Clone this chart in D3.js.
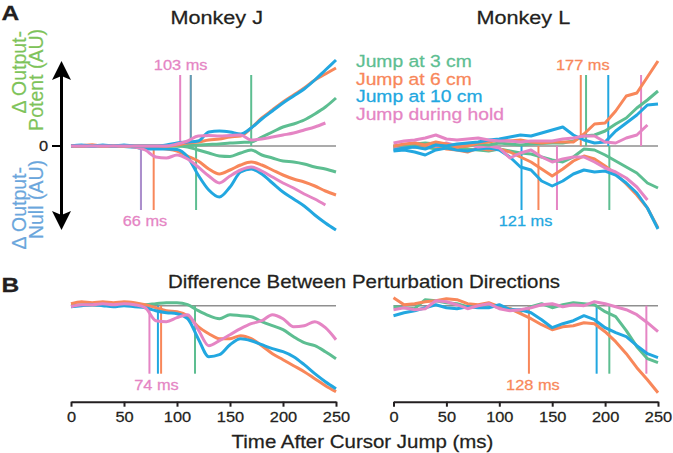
<!DOCTYPE html>
<html><head><meta charset="utf-8">
<script src="https://cdn.jsdelivr.net/npm/d3@7"></script>
<style>body{margin:0;background:#fff;} svg{display:block;} text{font-family:"Liberation Sans",Arial,Helvetica,sans-serif;}</style>
</head><body><svg id="c" width="673" height="453"></svg>
<script>
// ---------- DATA ----------
const times = [0,10,20,30,40,50,60,70,80,90,100,110,120,130,140,150,160,170,180,190,200,210,220,230,240,250];
const seriesNames = ["Jump at 3 cm","Jump at 6 cm","Jump at 10 cm","Jump during hold"];
const xTicks = [0,50,100,150,200,250];

// Monkey J, output-potent (up) and output-null (down), AU
const jPot3    = [0,0,0,0,0,0,0,0,0,0,0,0.05,0.1,0.15,0.2,0.3,0.35,0.4,0.9,1.4,1.9,2.2,2.6,3.2,3.9,4.8];
const jPot6    = [0,0,0.1,0,0,0,0,0,0,0,0.1,0.3,0.4,0.6,0.7,0.9,1.0,1.8,2.8,3.6,4.4,5.1,5.8,6.6,7.2,7.8];
const jPot10   = [0,0.1,0,0.1,0,0.1,0,0,0,0.1,0.3,0.4,0.5,1.4,1.5,1.4,1.2,1.8,2.7,3.5,4.3,5.0,5.7,6.6,7.6,8.6];
const jPotHold = [0,0,0,0,0,0,0,0,0,0,0.2,0.5,1.0,1.05,1.0,1.05,1.1,0.6,0.7,0.9,1.1,1.3,1.6,1.9,2.3];
const jNull3    = [0,0,0,0,0,0,0,0,0,0,0,-0.1,-0.4,-0.7,-1.0,-1.05,-0.7,-0.4,-0.9,-1.2,-1.5,-1.6,-1.8,-2.1,-2.3,-2.6];
const jNull6    = [0,0.05,0.1,0,0,0,-0.1,-0.2,-0.2,-0.3,-0.5,-1.0,-1.5,-2.3,-2.8,-2.4,-1.9,-1.6,-1.9,-2.4,-2.9,-3.3,-3.6,-4.0,-4.5,-4.9];
const jNull10   = [0,-0.05,0,0.05,0,-0.05,-0.1,-0.3,-0.3,-0.3,-0.35,-1.1,-2.9,-4.4,-5.1,-4.1,-2.6,-2.3,-2.8,-3.7,-4.6,-5.3,-6.0,-6.9,-7.7,-8.4];
const jNullHold = [0,0,-0.05,0,0,0,-0.1,-0.4,-1.1,-1.2,-0.9,-1.3,-2.1,-3.0,-3.7,-3.0,-2.4,-2.1,-2.5,-3.1,-3.7,-4.2,-4.8,-5.3,-5.9];

// Monkey L
const lPot3    = [0,0.1,0.2,0.3,0.2,0,0.1,0,0.2,0.1,0.3,0.2,0.1,0.2,0.25,0.3,0.3,0.5,1.0,1.1,1.5,2.2,2.8,3.8,4.6,5.5];
const lPot6    = [0,0.2,0.3,0.1,0.4,0.2,-0.1,0,0.3,0.4,0.6,0.5,0.6,0.4,0.3,0.4,0.4,0.4,1.2,2.2,2.3,3.5,5.0,5.3,6.9,8.5];
const lPot10   = [-0.4,-0.2,-0.1,-0.3,0.1,0,0.2,0.3,0.4,0.6,0.7,0.9,1.1,1.0,1.3,1.6,1.9,1.1,0.6,0.3,0.4,1.5,2.3,3.1,4.1,4.2];
const lPotHold = [0.3,0.5,0.6,0.8,1.1,0.7,0.6,0.7,0.8,0.6,0.5,0.5,0.4,0.5,0.5,0.5,0.7,0.8,1.0,1.0,0.4,0.3,0.8,1.1,2.1];
const lNull3    = [-0.1,-0.2,0,-0.1,-0.3,-0.2,-0.1,-0.3,-0.4,-0.5,-0.3,-0.5,-0.7,-0.8,-1.1,-1.4,-1.6,-1.1,-0.3,-0.4,-0.9,-1.5,-2.1,-2.7,-3.7,-4.2];
const lNull6    = [-0.2,0,-0.1,-0.2,0,-0.3,-0.4,-0.6,-0.2,-0.4,-0.3,-0.6,-1.1,-1.6,-2.3,-3.0,-2.3,-1.5,-1.0,-1.3,-2.0,-2.8,-3.8,-4.9,-6.2,-8.2];
const lNull10   = [-0.5,-0.4,-0.6,-0.9,-0.4,-0.2,-0.4,-0.5,-0.3,-0.2,-0.4,-1.1,-2.1,-2.4,-3.5,-4.0,-3.5,-2.8,-2.4,-2.6,-2.5,-2.9,-3.7,-4.7,-6.2,-8.3];
const lNullHold = [-0.1,0.1,0.3,0.2,0,0.3,0,0.2,-0.1,0,-0.2,-1.2,-0.7,-0.4,-1.1,-1.6,-1.3,-1.1,-1.1,-1.6,-2.2,-2.6,-3.2,-4.1,-5.4];

// Difference between perturbation directions
const jDiff3    = [0,0.1,0.1,0.1,0.1,0.2,0.1,0.1,0.2,0.3,0.3,0.1,-0.5,-1.0,-1.3,-0.9,-1.0,-1.1,-1.6,-2.0,-2.4,-3.1,-3.7,-4.0,-4.6,-5.3];
const jDiff6    = [0.2,0.4,0.3,0.4,0.3,0.4,0.3,0.1,-0.2,-0.5,-0.6,-1.0,-2.1,-2.8,-3.3,-3.3,-3.0,-3.3,-4.0,-4.8,-5.4,-6.0,-6.6,-7.3,-8.0,-8.6];
const jDiff10   = [-0.1,0,0.1,0,-0.1,0,-0.1,-0.2,-0.5,-0.7,-0.8,-1.3,-3.3,-5.1,-4.9,-3.9,-3.3,-3.5,-3.9,-4.3,-4.6,-5.1,-5.9,-6.8,-7.6,-8.3];
const jDiffHold = [-0.1,0.1,0.1,0.2,0.1,0.2,0.1,-0.2,-1.5,-1.6,-1.2,-0.9,-2.4,-4.0,-3.5,-2.9,-2.3,-1.8,-1.5,-0.9,-1.3,-2.1,-2.0,-1.6,-2.2,-3.4];
const lDiff3    = [-0.1,-0.2,-0.3,0.6,0.5,0.3,0.2,-0.1,0.0,0.1,-0.2,-0.3,-0.6,-0.1,0.2,-0.2,0.1,0.3,0.2,0.1,-0.6,-1.1,-2.5,-4.1,-5.3,-5.7];
const lDiff6    = [0.8,0.1,0.2,0.4,0.5,0.7,0.6,0.2,0.1,0.3,-0.1,-0.3,-0.8,-1.3,-1.9,-2.4,-2.1,-2.0,-1.7,-1.8,-2.6,-3.6,-4.8,-6.2,-7.4,-8.7];
const lDiff10   = [-1.0,-0.7,-0.5,-0.2,0.1,-0.2,-0.3,-0.1,-0.2,-0.2,0.1,-0.4,-0.4,-0.7,-1.4,-2.2,-1.8,-1.5,-1.0,-1.4,-2.2,-2.7,-3.1,-4.0,-4.8,-5.2];
const lDiffHold = [-0.4,-0.2,-0.4,-0.3,0.5,0.4,0.1,-0.3,0.0,0.2,-0.3,-0.5,-0.4,-0.2,0.1,0.2,-0.1,0.1,0.0,0.4,0.2,-0.1,-0.4,-0.9,-1.7,-2.6];

// Divergence onsets (ms), order: 3 cm, 6 cm, 10 cm, hold
const jPotOnset  = [170, 113, 113, 103];
const jNullOnset = [118, 78, 66, 66];
const lPotOnset  = [182, 177, 203, 234];
const lNullOnset = [204, 137, 121, 154.5];
const jDiffOnset = [117, 85, 82, 74];
const lDiffOnset = [204, 128, 192, 239];

// ---------- DRAWING ----------
const colors = ["#5dbe91","#f8875a","#22a7e0","#e585c4"];
const ink = "#231f20";
const SX = 1.17;
const svg = d3.select("#c");

const xJ = d3.scaleLinear().domain([0,250]).range([71,336]);
const xL = d3.scaleLinear().domain([0,250]).range([393.5,658]);
const yTop = d3.scaleLinear().domain([-8.5,8.5]).range([231,61]);
const yBot = d3.scaleLinear().domain([-8.7,0]).range([392.7,305.7]);

function txt(x, y, s, o={}) {
  return svg.append("text")
    .attr("transform", `translate(${x},${y}) scale(${o.sx ?? SX},1)`)
    .attr("text-anchor", o.anchor || "middle")
    .attr("font-size", o.size || 14)
    .attr("font-weight", o.weight || "normal")
    .attr("fill", o.fill || ink)
    .attr("stroke", o.fill || ink).attr("stroke-width", 0.25)
    .text(s);
}

function zeroLine(x, y) {
  svg.append("line").attr("x1", x(0)).attr("x2", x(250)).attr("y1", y(0)).attr("y2", y(0))
    .attr("stroke", "#8f8f8f").attr("stroke-width", 1.5);
}
function onsets(x, y, arr, endVal) {
  arr.forEach((t, i) => {
    const dup = arr.slice(0, i).some(u => Math.abs(u - t) < 1.5);
    svg.append("line").attr("x1", x(t)).attr("x2", x(t)).attr("y1", y(0)).attr("y2", y(endVal))
      .attr("stroke", colors[i]).attr("stroke-width", 2).attr("stroke-opacity", dup ? 0.72 : 1);
  });
}
function curves(x, y, list, curve) {
  list.forEach((vals, i) => {
    const line = d3.line().x((d, k) => x(times[k])).y(d => y(d)).curve(curve);
    svg.append("path").attr("d", line(vals)).attr("fill", "none")
      .attr("stroke", colors[i]).attr("stroke-width", 3).attr("stroke-linejoin", "round");
  });
}

// Top row
zeroLine(xJ, yTop); zeroLine(xL, yTop);
onsets(xJ, yTop, jPotOnset, 7.1); onsets(xJ, yTop, jNullOnset, -6.4);
onsets(xL, yTop, lPotOnset, 7.1); onsets(xL, yTop, lNullOnset, -6.4);
curves(xJ, yTop, [jNull3, jNull6, jNull10, jNullHold], d3.curveMonotoneX);
curves(xJ, yTop, [jPot3, jPot6, jPot10, jPotHold], d3.curveMonotoneX);
curves(xL, yTop, [lNull3, lNull6, lNull10, lNullHold], d3.curveLinear);
curves(xL, yTop, [lPot3, lPot6, lPot10, lPotHold], d3.curveLinear);

// Bottom row
zeroLine(xJ, yBot); zeroLine(xL, yBot);
onsets(xJ, yBot, jDiffOnset, -6.8); onsets(xL, yBot, lDiffOnset, -6.8);
curves(xJ, yBot, [jDiff3, jDiff6, jDiff10, jDiffHold], d3.curveMonotoneX);
curves(xL, yBot, [lDiff3, lDiff6, lDiff10, lDiffHold], d3.curveLinear);

// onset labels
txt(xJ(103) + 0.5, 70, `${jPotOnset[3]} ms`, {fill: colors[3]});
txt(xJ(66) + 4, 226, `${jNullOnset[3]} ms`, {fill: colors[3]});
txt(xL(177) + 2, 70, `${lPotOnset[1]} ms`, {fill: colors[1]});
txt(xL(121) + 4, 226, `${lNullOnset[2]} ms`, {fill: colors[2]});
txt(xJ(74) + 7, 390, `${jDiffOnset[3]} ms`, {fill: colors[3]});
txt(xL(128) + 4, 390, `${lDiffOnset[1]} ms`, {fill: colors[1]});

// bottom axes
[xJ, xL].forEach(x => {
  const g = svg.append("g").attr("transform", "translate(0,401.7)")
    .call(d3.axisBottom(x).tickValues(xTicks).tickSize(5).tickSizeOuter(0).tickPadding(5));
  g.attr("font-family", null).attr("font-size", null);
  g.select(".domain").attr("stroke", ink).attr("stroke-width", 2);
  g.selectAll(".tick line").attr("stroke", ink).attr("stroke-width", 2);
  g.selectAll(".tick text").attr("font-size", 14).attr("fill", ink)
    .attr("stroke", ink).attr("stroke-width", 0.25)
    .attr("transform", `scale(${SX},1)`);
});

// titles
txt(216.7, 23.5, "Monkey J", {size: 18.5});
txt(523.3, 23.5, "Monkey L", {size: 18.5});
txt(364, 288, "Difference Between Perturbation Directions", {size: 17.5});
txt(362.5, 447.5, "Time After Cursor Jump (ms)", {size: 17.5});
txt(1.5, 19.5, "A", {size: 21, weight: "bold", anchor: "start"});
txt(1.5, 292, "B", {size: 21, weight: "bold", anchor: "start"});

// legend
seriesNames.forEach((s, i) => txt(356, 67 + i * 17.5, s, {size: 16.5, anchor: "start", fill: colors[i]}));

// y "axis": double arrow + zero
const ax = 61.5;
svg.append("line").attr("x1", ax).attr("x2", ax).attr("y1", 72).attr("y2", 219)
  .attr("stroke", "#000").attr("stroke-width", 3);
svg.append("path").attr("d", `M${ax},61 L${ax+9.5},80 L${ax},76 L${ax-9.5},80 Z`).attr("fill", "#000");
svg.append("path").attr("d", `M${ax},230 L${ax+9.5},211 L${ax},215 L${ax-9.5},211 Z`).attr("fill", "#000");
svg.append("line").attr("x1", 52).attr("x2", ax).attr("y1", yTop(0)).attr("y2", yTop(0))
  .attr("stroke", "#000").attr("stroke-width", 2);
txt(43.5, yTop(0) + 5, "0", {size: 14});

function vlabel(x, yEnd, s, fill) {
  svg.append("text").attr("transform", `translate(${x},${yEnd}) rotate(-90)`)
    .attr("text-anchor", "end").attr("font-size", 19.5).attr("fill", fill)
    .attr("stroke", fill).attr("stroke-width", 0.2).text(s);
}
vlabel(26, 31, "\u0394 Output-", "#7ec35a");
vlabel(43, 29, "Potent (AU)", "#7ec35a");
vlabel(26, 167, "\u0394 Output-", "#6aa6dc");
vlabel(43, 160, "Null (AU)", "#6aa6dc");
</script></body></html>
